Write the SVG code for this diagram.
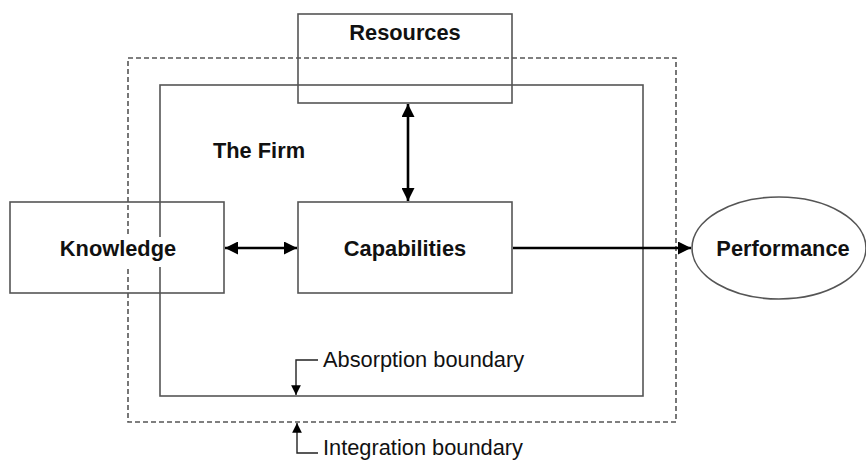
<svg xmlns="http://www.w3.org/2000/svg" width="866" height="462" viewBox="0 0 866 462">
<style>
.box{fill:none;stroke:#555;stroke-width:1.6}
.dash{fill:none;stroke:#555;stroke-width:1.6;stroke-dasharray:5 3}
.b{font-family:"Liberation Sans",Arial,sans-serif;font-weight:bold;font-size:21.8px;fill:#111;text-anchor:middle}
.r{font-family:"Liberation Sans",Arial,sans-serif;font-size:21.8px;fill:#111}
.arr{fill:none;stroke:#000;stroke-width:2.6}
.thin{fill:none;stroke:#222;stroke-width:1.4}
</style>
<defs>
<marker id="ah" viewBox="0 0 10 10" refX="10" refY="5" markerWidth="5" markerHeight="5" orient="auto-start-reverse" markerUnits="strokeWidth">
<path d="M0,0 L10,5 L0,10 z" fill="#000"/>
</marker>
<marker id="sh" viewBox="0 0 10 10" refX="10" refY="5" markerWidth="7" markerHeight="7" orient="auto" markerUnits="strokeWidth">
<path d="M0,0 L10,5 L0,10 z" fill="#000"/>
</marker>
</defs>
<rect width="866" height="462" fill="#fff"/>
<g id="integration-boundary"><rect class="dash" x="128" y="58" width="548" height="364"/></g>
<g id="firm"><rect class="box" x="160" y="85" width="483" height="311"/><text class="b" x="259" y="158">The Firm</text></g>
<g id="resources"><rect class="box" x="298" y="14" width="214" height="89"/><text class="b" x="405" y="40">Resources</text></g>
<g id="knowledge"><rect class="box" x="10" y="202" width="214" height="91"/><rect x="56" y="237" width="124" height="30" fill="#fff"/><text class="b" x="118" y="256">Knowledge</text></g>
<g id="capabilities"><rect class="box" x="298" y="202" width="214" height="91"/><text class="b" x="405" y="256">Capabilities</text></g>
<g id="performance"><ellipse class="box" cx="779" cy="248" rx="87" ry="51" fill="#fff"/><text class="b" x="783" y="256">Performance</text></g>
<g id="connectors">
<line class="arr" x1="408" y1="104" x2="408" y2="201" marker-start="url(#ah)" marker-end="url(#ah)"/>
<line class="arr" x1="225" y1="248" x2="297" y2="248" marker-start="url(#ah)" marker-end="url(#ah)"/>
<line class="arr" x1="513" y1="248" x2="691" y2="248" marker-end="url(#ah)"/>
<path class="thin" d="M318,360 H296 V395" marker-end="url(#sh)"/>
<path class="thin" d="M318,453 H297 V423" marker-end="url(#sh)"/>
</g>
<g id="labels">
<text class="r" x="323" y="367">Absorption boundary</text>
<text class="r" x="323" y="455">Integration boundary</text>
</g>
</svg>
